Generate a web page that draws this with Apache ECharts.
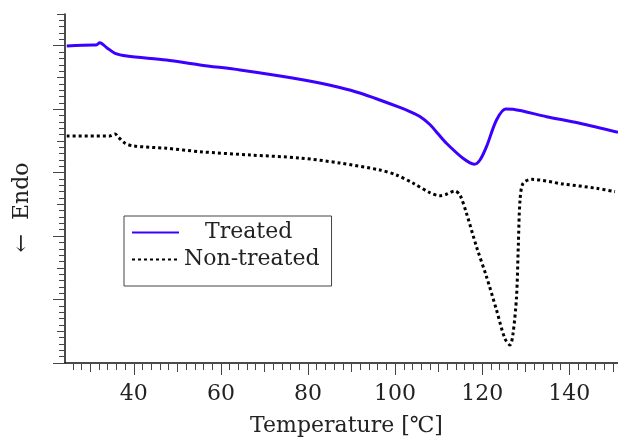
<!DOCTYPE html>
<html>
<head>
<meta charset="utf-8">
<script src="https://cdn.jsdelivr.net/npm/echarts@6/dist/echarts.min.js"></script>
<style>
html,body{margin:0;padding:0;background:#fff;}
#chart{width:618px;height:438px;}
</style>
</head>
<body>
<div id="chart"></div>
<script>
// Treated (solid blue)
var treatedT = [24.6, 30.7, 31.3, 32.2, 33.8, 35.7, 38.4, 47.5, 55.2, 64.4, 73.6, 82.7, 87.3, 91.9, 96.5, 101.1, 103.4, 105.7, 108.0, 109.8, 111.8, 115.6, 118.2, 119.5, 121.0, 123.3, 125.4, 127.1, 134.8, 142.4, 151.2];
var treatedV = [4.996, 5.012, 5.012, 5.048, 4.969, 4.881, 4.838, 4.775, 4.697, 4.618, 4.523, 4.413, 4.342, 4.255, 4.145, 4.027, 3.962, 3.885, 3.759, 3.617, 3.463, 3.226, 3.132, 3.199, 3.409, 3.830, 4.003, 3.998, 3.882, 3.778, 3.636];
// Non-treated (dotted black)
var nonT = [24.6, 34.5, 35.7, 36.4, 38.0, 39.9, 47.5, 55.2, 66.7, 78.1, 87.3, 96.5, 100.3, 104.2, 108.0, 110.3, 111.8, 113.7, 114.9, 116.4, 118.7, 121.0, 123.3, 125.2, 126.4, 127.1, 127.9, 128.3, 128.7, 129.4, 131.3, 138.6, 146.3, 150.5];
var nonV = [3.578, 3.578, 3.609, 3.562, 3.463, 3.420, 3.384, 3.330, 3.278, 3.231, 3.152, 3.042, 2.963, 2.832, 2.684, 2.637, 2.659, 2.711, 2.648, 2.359, 1.833, 1.360, 0.835, 0.389, 0.284, 0.468, 1.045, 1.833, 2.569, 2.832, 2.895, 2.821, 2.753, 2.700];

// tick labels / positions
var xMajor = [40, 60, 80, 100, 120, 140];
var xMedium = [30, 50, 70, 90, 110, 130, 150];
var xMinor = [26, 28, 32, 34, 36, 38, 42, 44, 46, 48, 52, 54, 56, 58, 62, 64, 66, 68, 72, 74, 76, 78, 82, 84, 86, 88, 92, 94, 96, 98, 102, 104, 106, 108, 112, 114, 116, 118, 122, 124, 126, 128, 132, 134, 136, 138, 142, 144, 146, 148];
var yMajor = [0, 1, 2, 3, 4, 5];
var yMedium = [0.5, 1.5, 2.5, 3.5, 4.5, 5.5];
var yMinor = [0.1, 0.2, 0.3, 0.4, 0.6, 0.7, 0.8, 0.9, 1.1, 1.2, 1.3, 1.4, 1.6, 1.7, 1.8, 1.9, 2.1, 2.2, 2.3, 2.4, 2.6, 2.7, 2.8, 2.9, 3.1, 3.2, 3.3, 3.4, 3.6, 3.7, 3.8, 3.9, 4.1, 4.2, 4.3, 4.4, 4.6, 4.7, 4.8, 4.9, 5.1, 5.2, 5.3, 5.4];

function pairs(xs, ys) { return xs.map(function (x, k) { return [x, ys[k]]; }); }

var FONT = 'DejaVu Serif';
var XMIN = 24.2, XMAX = 151.2, YMIN = 0, YMAX = 5.5;

function xAx(ticks, len, extra) {
  var a = {
    type: 'value', min: XMIN, max: XMAX, offset: 2, position: 'bottom',
    axisLine: { show: false },
    axisTick: { show: true, inside: false, length: len, customValues: ticks, lineStyle: { color: '#444', width: 1 } },
    axisLabel: { show: false },
    splitLine: { show: false }
  };
  for (var k in extra) a[k] = extra[k];
  return a;
}
function yAx(ticks, len, extra) {
  var a = {
    type: 'value', min: YMIN, max: YMAX, position: 'left', offset: 0,
    axisLine: { show: false },
    axisTick: { show: true, inside: false, length: len, customValues: ticks, lineStyle: { color: '#444', width: 1 } },
    axisLabel: { show: false },
    splitLine: { show: false }
  };
  for (var k in extra) a[k] = extra[k];
  return a;
}

var chart = echarts.init(document.getElementById('chart'), null, { renderer: 'canvas' });
chart.setOption({
  animation: false,
  backgroundColor: '#fff',
  grid: { left: 65, right: 0, top: 14, bottom: 75, containLabel: false, outerBoundsMode: 'none' },
  xAxis: [
    xAx(xMedium, 9, { axisLine: { show: true, lineStyle: { color: '#111', width: 1.5 } } }),
    xAx(xMajor, 12, {
      axisLabel: { show: true, customValues: xMajor, margin: 18, color: '#222', fontFamily: FONT, fontSize: 22 },
      name: 'Temperature [\u2103]', nameLocation: 'middle', nameGap: 50,
      nameTextStyle: { color: '#222', fontFamily: FONT, fontSize: 22, padding: [0, 0, 0, 10] }
    }),
    xAx(xMinor, 7, {})
  ],
  yAxis: [
    yAx(yMedium, 8, { axisLine: { show: true, lineStyle: { color: '#111', width: 1.5 } } }),
    yAx(yMajor, 12, {
      name: '\u2190  Endo', nameLocation: 'middle', nameGap: 32, nameRotate: 90,
      nameTextStyle: { color: '#222', fontFamily: FONT, fontSize: 22, padding: [0, 38, 0, 0] }
    }),
    yAx(yMinor, 6, {})
  ],
  legend: {
    orient: 'vertical', left: 124, top: 216,
    padding: [5, 12, 15, 7],
    itemGap: 4,
    itemWidth: 47, itemHeight: 14,
    backgroundColor: '#fff',
    borderColor: '#444', borderWidth: 1, borderRadius: 0,
    itemStyle: { opacity: 0 },
    textStyle: { color: '#222', fontFamily: FONT, fontSize: 22, lineHeight: 23 },
    formatter: function (name) { return name === 'Treated' ? '   ' + name : name; },
    data: ['Treated', 'Non-treated']
  },
  series: [
    {
      name: 'Treated', type: 'line', xAxisIndex: 0, yAxisIndex: 0,
      data: pairs(treatedT, treatedV),
      showSymbol: false, symbol: 'none',
      smooth: 0.3,
      lineStyle: { color: '#3c00ff', width: 3 },
      itemStyle: { color: '#3c00ff' }
    },
    {
      name: 'Non-treated', type: 'line', xAxisIndex: 0, yAxisIndex: 0,
      data: pairs(nonT, nonV),
      showSymbol: false, symbol: 'none',
      smooth: 0.3,
      lineStyle: { color: '#000', width: 3, type: [3, 3], cap: 'butt' },
      itemStyle: { color: '#000' }
    }
  ]
});
</script>
</body>
</html>
